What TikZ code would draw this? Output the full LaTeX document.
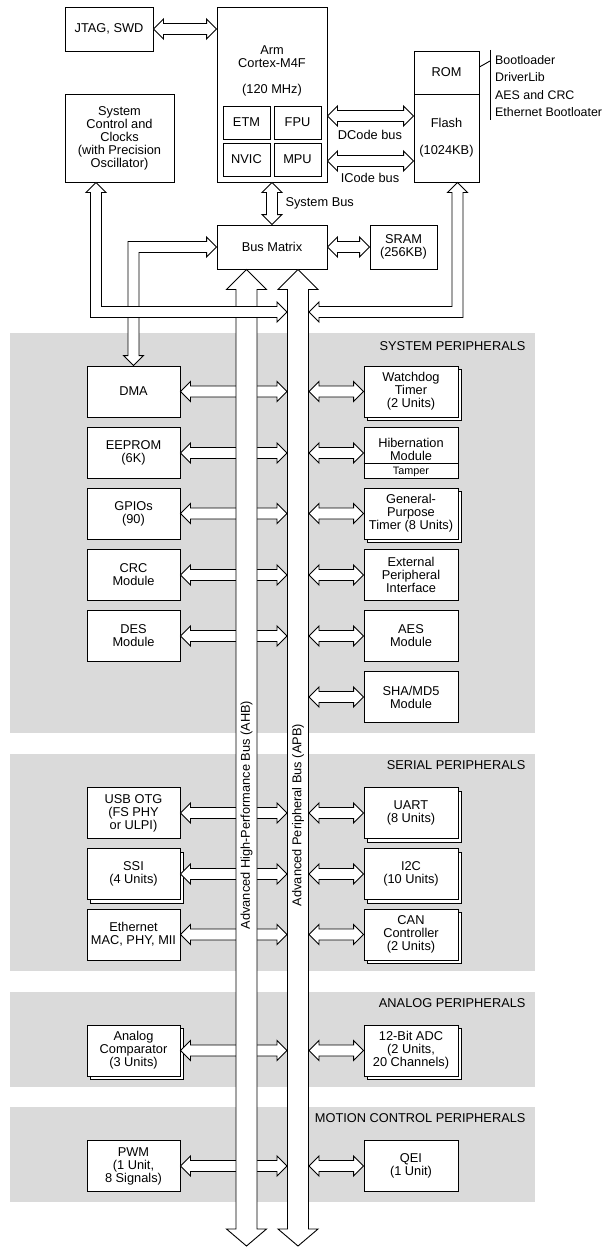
\documentclass[tikz,border=0pt]{standalone}
\usepackage{fontspec}
\setmainfont{Liberation Sans}
\usepackage{tikz}
\usetikzlibrary{calc}
\usetikzlibrary{positioning,shadows}
\definecolor{bandgray}{RGB}{218,218,218}

% fat arrow, heads at both ends, left tip #1, right tip #2
\newcommand{\DArrowH}[2]{%
	\draw[FatArrow] let \p1=#1, \p2=#2 in
	(\x1,\y1) -- ++(10pt,10pt) -- ++(0pt,-4.5pt) -- (\x2-10pt,\y1+5.5pt)
	-- ++(0pt,4.5pt) -- (\x2,\y1) -- ++(-10pt,-10pt) -- ++(0pt,4.5pt)
	-- (\x1+10pt,\y1-5.5pt) -- ++(0pt,-4.5pt) -- cycle;}
% same, upper tip #1, lower tip #2
\newcommand{\DArrowV}[2]{%
	\draw[FatArrow] let \p1=#1, \p2=#2 in
	(\x1,\y1) -- ++(10pt,-10pt) -- ++(-4.5pt,0pt) -- (\x1+5.5pt,\y2+10pt)
	-- ++(4.5pt,0pt) -- (\x1,\y2) -- ++(-10pt,10pt) -- ++(4.5pt,0pt)
	-- (\x1-5.5pt,\y1-10pt) -- ++(-4.5pt,0pt) -- cycle;}
% the two long buses
\newcommand{\BusArrow}[2]{%
	\draw[FatArrow] let \p1=#1, \p2=#2 in
	(\x1,\y1) -- ++(20pt,-20pt) -- ++(-9.5pt,0pt) -- (\x1+10.5pt,\y2+17pt)
	-- ++(9.5pt,0pt) -- (\x1,\y2) -- ++(-20pt,17pt) -- ++(9.5pt,0pt)
	-- (\x1-10.5pt,\y1-20pt) -- ++(-9.5pt,0pt) -- cycle;}

\begin{document}
\begin{tikzpicture}[
		x=1pt, y=-1pt,
		Block/.style={draw, fill=white, line width=0.9pt, align=center, inner sep=1pt,
			minimum width=93pt, minimum height=51pt, font=\fontsize{12.8}{13}\selectfont},
		RBlock/.style={Block, minimum width=94pt},
		StackBlock/.style={Block, copy shadow={shadow xshift=3.5pt, shadow yshift=-3.5pt}},
		RStackBlock/.style={StackBlock, minimum width=94pt},
		Band/.style={fill=bandgray, draw=none},
		BandTitle/.style={anchor=east, font=\fontsize{12.8}{13}\selectfont},
		FatArrow/.style={draw, fill=white, line width=0.9pt, line join=miter},
		SmallText/.style={font=\fontsize{12.8}{13}\selectfont, align=center},
		every node/.style={scale=1}
		]

		\useasboundingbox (0,0) rectangle (604,1247);

		% peripheral bands
		\fill[Band] (10,333) rectangle (535,733);
		\fill[Band] (10,754) rectangle (535,971);
		\fill[Band] (10,992) rectangle (535,1087);
		\fill[Band] (10,1107) rectangle (535,1202);
		\node[BandTitle] (tsys) at (529,346) {SYSTEM PERIPHERALS};
		\node[BandTitle] (tser) at (529,765) {SERIAL PERIPHERALS};
		\node[BandTitle] (tana) at (529,1003) {ANALOG PERIPHERALS};
		\node[BandTitle] (tmot) at (529,1118) {MOTION CONTROL PERIPHERALS};

		% core
		\node[Block, minimum width=88pt, minimum height=44pt] (jtag) at (109,29) {JTAG, SWD};
		\node[Block, minimum width=110pt, minimum height=175pt] (arm) at (272,94.5) {};
		\node[SmallText] (armtxt) at (272,70.5) {Arm\\Cortex-M4F\\[13pt](120 MHz)};
		\node[Block, minimum width=47pt, minimum height=33pt] (etm) at (246.5,122.5) {ETM};
		\node[Block, minimum width=47pt, minimum height=33pt] (fpu) at (297.5,122.5) {FPU};
		\node[Block, minimum width=47pt, minimum height=33pt] (nvic) at (246.5,159.5) {NVIC};
		\node[Block, minimum width=47pt, minimum height=33pt] (mpu) at (297.5,159.5) {MPU};
		\node[Block, minimum width=109pt, minimum height=88pt] (sysctl) at (119.5,138)
			{System\\Control and\\Clocks\\(with Precision\\Oscillator)};
		\node[Block, minimum width=65pt, minimum height=43pt] (rom) at (446.5,72.5) {ROM};
		\node[Block, minimum width=65pt, minimum height=88pt] (flash) at (446.5,138) {Flash\\[14pt](1024KB)};
		\node[Block, minimum width=110pt, minimum height=44pt] (busmatrix) at (272,247) {Bus Matrix};
		\node[Block, minimum width=67pt, minimum height=44pt] (sram) at (403.5,247) {SRAM\\(256KB)};

		% ROM contents
		\draw[line width=0.9pt] (490,50) -- (490,120);
		\draw[line width=0.9pt] (rom.east |- 0,67) -- (490,61);
		\node[anchor=west, align=left, inner sep=1pt, font=\fontsize{12.4}{17.3}\selectfont] (romlist) at (494,86)
			{Bootloader\\DriverLib\\AES and CRC\\Ethernet Bootloater};

		% bus coordinates
		\coordinate (ahb) at (246.5,0);
		\coordinate (apb) at (298,0);
		\coordinate (apbW) at (287,0);
		\coordinate (apbE) at (309,0);
		\coordinate (busend) at (0,1246);
		\coordinate (dcode) at (0,116);
		\coordinate (icode) at (0,161);
		\coordinate (sysL) at (96,312);
		\coordinate (flashL) at (457.5,312);

		% system peripherals
		\node[Block] (dma) at (133.5,391.5) {DMA};
		\node[Block] (eeprom) at (133.5,453) {EEPROM\\(6K)};
		\node[Block] (gpio) at (133.5,513.5) {GPIOs\\(90)};
		\node[Block] (crc) at (133.5,575) {CRC\\Module};
		\node[Block] (des) at (133.5,636) {DES\\Module};
		\node[RStackBlock] (wdt) at (411,391.5) {Watchdog\\Timer\\(2 Units)};
		\node[RBlock] (hib) at (411,453) {};
		\node[SmallText] (hibtxt) at (411,449.5) {Hibernation\\Module};
		\draw[line width=0.9pt] (hib.west |- 0,463) -- (hib.east |- 0,463);
		\node[font=\fontsize{10.8}{11}\selectfont] (tamper) at (411,471.5) {Tamper};
		\node[RStackBlock] (gpt) at (411,513.5) {General-\\Purpose\\Timer (8 Units)};
		\node[RBlock] (epi) at (411,575) {External\\Peripheral\\Interface};
		\node[RBlock] (aes) at (411,636) {AES\\Module};
		\node[RBlock] (sha) at (411,697) {SHA/MD5\\Module};

		% serial peripherals
		\node[Block] (usb) at (133.5,813) {USB OTG\\(FS PHY\\or ULPI)};
		\node[StackBlock] (ssi) at (133.5,874) {SSI\\(4 Units)};
		\node[Block] (eth) at (133.5,934.5) {Ethernet\\MAC, PHY, MII};
		\node[RStackBlock] (uart) at (411,813) {UART\\(8 Units)};
		\node[RStackBlock] (iic) at (411,874) {I2C\\(10 Units)};
		\node[RStackBlock] (can) at (411,934.5) {CAN\\Controller\\(2 Units)};

		% analog and motion
		\node[StackBlock] (acmp) at (133.5,1050.5) {Analog\\Comparator\\(3 Units)};
		\node[RStackBlock] (adc) at (411,1050.5) {12-Bit ADC\\(2 Units,\\20 Channels)};
		\node[Block] (pwm) at (133.5,1166) {PWM\\(1 Unit,\\8 Signals)};
		\node[RBlock] (qei) at (411,1166) {QEI\\(1 Unit)};

		% left side arrows, they run under the AHB
		\DArrowH{(dma.east)}{(apbW |- dma.east)}
		\DArrowH{(eeprom.east)}{(apbW |- eeprom.east)}
		\DArrowH{(gpio.east)}{(apbW |- gpio.east)}
		\DArrowH{(crc.east)}{(apbW |- crc.east)}
		\DArrowH{(des.east)}{(apbW |- des.east)}
		\DArrowH{(usb.east)}{(apbW |- usb.east)}
		\DArrowH{(ssi.east)}{(apbW |- ssi.east)}
		\DArrowH{(eth.east)}{(apbW |- eth.east)}
		\DArrowH{(acmp.east)}{(apbW |- acmp.east)}
		\DArrowH{(pwm.east)}{(apbW |- pwm.east)}

		% AHB and APB
		\BusArrow{(busmatrix.south -| ahb)}{(ahb |- busend)}
		\BusArrow{(busmatrix.south -| apb)}{(apb |- busend)}
		\node[SmallText, rotate=90] (ahbtxt) at (246.5,815) {Advanced High-Performance Bus (AHB)};
		\node[SmallText, rotate=90] (apbtxt) at (298,815) {Advanced Peripheral Bus (APB)};

		% right side arrows
		\DArrowH{(apbE |- wdt.west)}{(wdt.west)}
		\DArrowH{(apbE |- hib.west)}{(hib.west)}
		\DArrowH{(apbE |- gpt.west)}{(gpt.west)}
		\DArrowH{(apbE |- epi.west)}{(epi.west)}
		\DArrowH{(apbE |- aes.west)}{(aes.west)}
		\DArrowH{(apbE |- sha.west)}{(sha.west)}
		\DArrowH{(apbE |- uart.west)}{(uart.west)}
		\DArrowH{(apbE |- iic.west)}{(iic.west)}
		\DArrowH{(apbE |- can.west)}{(can.west)}
		\DArrowH{(apbE |- adc.west)}{(adc.west)}
		\DArrowH{(apbE |- qei.west)}{(qei.west)}

		% core buses
		\DArrowH{(jtag.east)}{(arm.west |- jtag.east)}
		\DArrowH{(arm.east |- dcode)}{(flash.west |- dcode)}
		\DArrowH{(arm.east |- icode)}{(flash.west |- icode)}
		\node[SmallText] (dcodetxt) at (370,135) {DCode bus};
		\node[SmallText] (icodetxt) at (370,178) {ICode bus};
		\DArrowV{(arm.south)}{(busmatrix.north)}
		\node[SmallText, anchor=west] (sysbustxt) at (282,203) {System Bus};
		\DArrowH{(busmatrix.east)}{(sram.west)}

		% bus matrix down to DMA
		\draw[FatArrow] let \p1=(busmatrix.west), \p2=(dma.north) in
		(\x1,\y1) -- ++(-10pt,10pt) -- ++(0pt,-4.5pt) -- (\x2-5.5pt,\y1+5.5pt)
		-- (\x2-5.5pt,\y2+10pt) -- ++(-4.5pt,0pt) -- (\x2,\y2) -- ++(10pt,10pt)
		-- ++(-4.5pt,0pt) -- (\x2+5.5pt,\y1-5.5pt) -- (\x1-10pt,\y1-5.5pt)
		-- ++(0pt,-4.5pt) -- cycle;

		% system control to APB
		\draw[FatArrow] let \p1=(sysctl.south -| sysL), \p2=(apbW |- sysL) in
		(\x1,\y1) -- ++(10pt,-10pt) -- ++(-4.5pt,0pt) -- (\x1+5.5pt,\y2+5.5pt)
		-- (\x2-10pt,\y2+5.5pt) -- ++(0pt,4.5pt) -- (\x2,\y2) -- ++(-10pt,-10pt)
		-- ++(0pt,4.5pt) -- (\x1-5.5pt,\y2-5.5pt) -- (\x1-5.5pt,\y1-10pt)
		-- ++(-4.5pt,0pt) -- cycle;

		% flash to APB
		\draw[FatArrow] let \p1=(flash.south -| flashL), \p2=(apbE |- flashL) in
		(\x1,\y1) -- ++(10pt,-10pt) -- ++(-4.5pt,0pt) -- (\x1+5.5pt,\y2-5.5pt)
		-- (\x2+10pt,\y2-5.5pt) -- ++(0pt,-4.5pt) -- (\x2,\y2) -- ++(10pt,10pt)
		-- ++(0pt,-4.5pt) -- (\x1-5.5pt,\y2+5.5pt) -- (\x1-5.5pt,\y1-10pt)
		-- ++(-4.5pt,0pt) -- cycle;

\end{tikzpicture}
\end{document}
